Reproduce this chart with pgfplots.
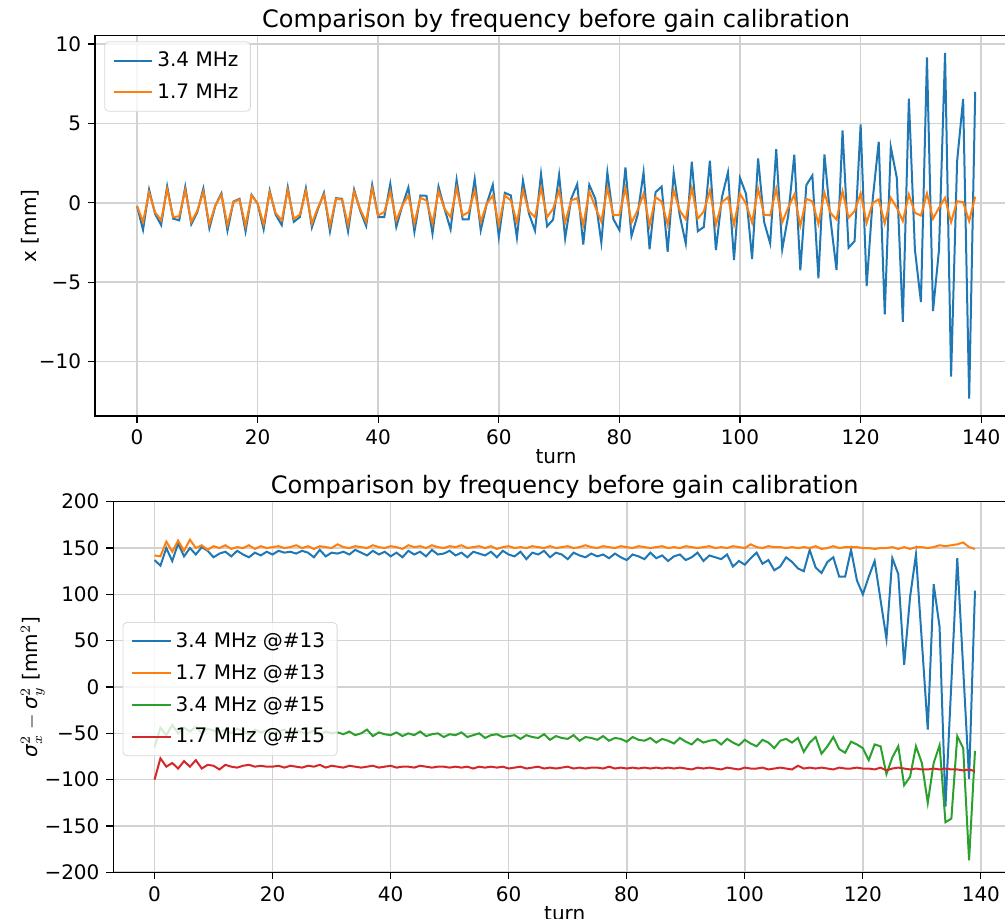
\documentclass[border=0pt]{standalone}
\usepackage{fontspec}
\setmainfont{DejaVu Sans}
\usepackage{pgfplots}
\pgfplotsset{compat=1.18}
\usepackage{pgfplotstable}

\definecolor{tabblue}{HTML}{1F77B4}
\definecolor{taborange}{HTML}{FF7F0E}
\definecolor{tabgreen}{HTML}{2CA02C}
\definecolor{tabred}{HTML}{D62728}

% turn, 3.4 MHz, 1.7 MHz  (x in mm)
\pgfplotstableread{
t a b
0 -0.2 -0.2
1 -1.7 -1.2
2 0.83 0.65
3 -0.7 -0.6
4 -1.4 -1.1
5 1.04 0.85
6 -1.0 -0.9
7 -1.1 -0.85
8 1.0 0.8
9 -1.35 -1.2
10 -0.6 -0.5
11 0.9 0.7
12 -1.6 -1.35
13 -0.17 -0.15
14 0.6 0.5
15 -1.75 -1.4
16 0.08 0.05
17 0.25 0.2
18 -1.8 -1.45
19 0.5 0.45
20 -0.06 -0.05
21 -1.67 -1.35
22 0.77 0.65
23 -0.75 -0.65
24 -1.4 -1.1
25 0.98 0.8
26 -1.2 -1.0
27 -0.9 -0.75
28 0.92 0.75
29 -1.55 -1.3
30 -0.4 -0.3
31 0.63 0.5
32 -1.8 -1.45
33 0.29 0.25
34 0.25 0.2
35 -1.8 -1.4
36 0.83 0.7
37 -0.48 -0.4
38 -1.46 -1.2
39 1.13 0.9
40 -0.9 -0.8
41 -0.9 -0.58
42 1.19 0.71
43 -1.52 -1.1
44 -0.17 -0.17
45 0.96 0.46
46 -1.83 -1.3
47 0.46 0.31
48 0.44 0.15
49 -1.94 -1.3
50 1.02 0.71
51 -0.38 -0.38
52 -1.67 -0.9
53 1.44 0.92
54 -1.04 -0.8
55 -1.04 -0.58
56 1.5 0.77
57 -1.73 -1.2
58 -0.06 -0.06
59 1.13 0.46
60 -2.15 -1.4
61 0.63 0.46
62 0.46 0.15
63 -2.2 -1.25
64 1.4 0.77
65 -0.69 -0.54
66 -1.75 -0.9
67 1.81 0.92
68 -1.48 -0.9
69 -1.06 -0.38
70 1.75 0.77
71 -2.25 -1.25
72 0.25 0.15
73 1.17 0.29
74 -2.63 -1.4
75 1.13 0.71
76 0.25 -0.27
77 -2.5 -1.18
78 1.92 0.92
79 -1.03 -0.78
80 -1.72 -0.78
81 2.23 0.92
82 -2.1 -1.25
83 -0.79 -0.48
84 1.92 0.56
85 -2.92 -1.42
86 0.67 0.35
87 1.02 0.08
88 -3.08 -1.38
89 1.88 0.77
90 -0.79 -0.48
91 -2.56 -1.04
92 2.58 0.92
93 -1.79 -1.0
94 -1.52 -0.54
95 2.65 0.77
96 -2.98 -1.38
97 0.35 0.04
98 1.92 0.35
99 -3.6 -1.38
100 1.56 0.56
101 0.56 -0.06
102 -3.54 -1.25
103 2.79 0.88
104 -1.21 -0.75
105 -2.56 -0.79
106 3.38 0.88
107 -2.93 -1.23
108 -0.79 -0.3
109 3.03 0.52
110 -4.25 -1.45
111 1.12 0.25
112 1.72 0.09
113 -4.75 -1.33
114 3.04 0.63
115 -1.05 -0.63
116 -4.23 -1.05
117 4.55 0.73
118 -2.83 -0.94
119 -2.41 -0.52
120 4.93 0.59
121 -5.24 -1.26
122 0.21 0.0
123 3.84 0.21
124 -7.02 -1.3
125 3.52 0.31
126 1.57 -0.31
127 -7.5 -1.15
128 6.56 0.52
129 -2.94 -0.63
130 -6.25 -0.8
131 9.16 0.59
132 -6.81 -1.0
133 -2.94 -0.31
134 9.43 0.31
135 -10.94 -1.22
136 2.62 0.1
137 6.54 0.04
138 -12.33 -1.15
139 6.98 0.38
}\topdata

% turn, 3.4 MHz @#13, 1.7 MHz @#13, 3.4 MHz @#15, 1.7 MHz @#15
\pgfplotstableread{
t a b c d
0 137 142 -65 -100
1 131 141 -44 -77
2 150 157 -52 -86
3 136 146 -41 -82
4 155 158 -50 -88
5 141 147 -44 -80
6 150 159 -48 -86
7 143 150 -43 -79
8 151 153 -50 -88
9 147 148 -45 -84
10 140 152 -47 -85
11 144 150 -49 -89
12 146 153 -46 -84
13 141 149 -50 -86
14 147 151 -45 -87
15 143 150 -48 -85
16 140 153 -51 -84
17 145 149 -46 -86
18 142 152 -49 -85
19 146 150 -47 -86
20 143 151 -50 -86
21 147 152 -48 -85
22 145 150 -46 -87
23 146 151 -51 -85
24 144 153 -47 -86
25 147 150 -49 -87
26 145 152 -50 -85
27 140 149 -47 -86
28 148 152 -52 -84
29 141 151 -48 -87
30 145 150 -50 -85
31 144 154 -49 -86
32 146 151 -51 -87
33 143 150 -48 -85
34 148 152 -52 -86
35 145 151 -50 -87
36 142 150 -46 -86
37 147 153 -53 -85
38 143 151 -49 -87
39 146 150 -51 -86
40 141 152 -52 -85
41 145 151 -49 -87
42 140 149 -53 -86
43 147 153 -50 -86
44 143 151 -52 -87
45 146 152 -48 -85
46 141 150 -53 -86
47 148 153 -51 -87
48 143 151 -50 -86
49 144 150 -54 -86
50 147 152 -51 -87
51 142 151 -52 -86
52 145 153 -49 -87
53 140 150 -54 -86
54 146 151 -52 -88
55 144 152 -50 -86
56 142 150 -55 -87
57 146 152 -52 -86
58 140 149 -51 -87
59 147 151 -54 -86
60 143 152 -53 -88
61 141 150 -52 -87
62 146 151 -56 -86
63 138 150 -52 -88
64 145 152 -54 -87
65 143 151 -55 -86
66 147 150 -51 -88
67 140 152 -57 -87
68 145 150 -53 -88
69 143 151 -55 -87
70 138 152 -56 -86
71 145 150 -52 -88
72 142 151 -58 -87
73 140 153 -54 -88
74 144 151 -55 -87
75 141 150 -57 -87
76 143 152 -53 -88
77 139 151 -58 -86
78 144 150 -55 -88
79 140 152 -56 -87
80 137 151 -59 -88
81 143 150 -54 -87
82 141 152 -57 -88
83 138 151 -58 -87
84 145 150 -55 -88
85 139 151 -60 -87
86 142 152 -56 -88
87 136 150 -58 -87
88 141 151 -61 -88
89 143 150 -55 -87
90 137 152 -59 -88
91 140 151 -62 -89
92 145 150 -56 -87
93 136 151 -60 -88
94 142 152 -58 -87
95 140 150 -57 -88
96 138 151 -62 -89
97 143 150 -56 -87
98 130 152 -60 -88
99 136 151 -63 -89
100 132 150 -57 -87
101 139 154 -61 -88
102 145 151 -64 -88
103 133 150 -57 -87
104 137 152 -60 -89
105 126 151 -66 -88
106 130 151 -58 -87
107 140 150 -56 -88
108 135 151 -60 -89
109 128 150 -55 -85
110 125 151 -70 -88
111 148 150 -60 -87
112 129 152 -54 -88
113 123 149 -72 -87
114 135 150 -64 -88
115 140 152 -54 -89
116 119 150 -67 -87
117 119 151 -71 -88
118 148 151 -59 -88
119 115 151 -62 -87
120 100 150 -66 -88
121 119 150 -79 -88
122 136 149 -62 -89
123 94 150 -64 -87
124 52 150 -94 -90
125 139 151 -76 -88
126 122 149 -64 -87
127 24 151 -106 -88
128 97 149 -97 -89
129 143 151 -64 -88
130 49 151 -82 -89
131 -46 150 -125 -89
132 111 151 -82 -88
133 65 153 -63 -89
134 -129 152 -146 -88
135 5 153 -142 -89
136 139 154 -53 -89
137 20 156 -66 -90
138 -99 151 -187 -89
139 104 149 -69 -91
}\botdata

\pgfplotsset{
  mpl/.style={
    scale only axis,
    tick align=outside,
    tick pos=left,
    grid=major,
    major grid style={gray!35, line width=0.8pt},
    axis line style={line width=0.6pt},
    major tick length=3.5pt,
    every tick/.style={black, line width=0.6pt},
    tick label style={font=\fontsize{10}{12}\selectfont},
    label style={font=\fontsize{10}{12}\selectfont},
    xlabel style={yshift=4.5pt},
    ylabel style={yshift=-7pt},
    title style={font=\fontsize{12}{14}\selectfont, at={(0.5,1)}, anchor=base, yshift=-1.8pt},
    /pgf/number format/assume math mode=true,
    xmin=-6.95, xmax=145.95,
    xtick={0,20,...,140},
    xlabel={turn},
    title={Comparison by frequency before gain calibration},
    legend cell align=left,
    legend image code/.code={\draw[##1, line width=1pt] (0cm,0cm) -- (0.68cm,0cm);},
    every axis plot/.append style={line width=1pt, mark=none},
    legend style={
      draw=gray!30, rounded corners=2pt, fill=white, fill opacity=0.8,
      text opacity=1, font=\fontsize{10}{12}\selectfont,
      inner xsep=4pt, inner ysep=3pt, row sep=3pt,
    },
  }
}

\begin{document}
\begin{tikzpicture}
  \begin{axis}[mpl,
      at={(47.55pt,251.5pt)}, anchor=south west,
      width=461pt, height=190.15pt,
      ymin=-13.42, ymax=10.52,
      ytick={-10,-5,0,5,10},
      yticklabels={−10,−5,0,5,10},
      ylabel={x [mm]},
      legend style={at={(0.01,0.985)}, anchor=north west},
    ]
    \addplot[tabblue] table[x=t, y=a] {\topdata};
    \addplot[taborange] table[x=t, y=b] {\topdata};
    \legend{3.4 MHz, 1.7 MHz}
  \end{axis}

  \begin{axis}[mpl,
      at={(56.75pt,23.35pt)}, anchor=south west,
      width=451.25pt, height=185.3pt,
      ymin=-200, ymax=200,
      ytick={-200,-150,...,200},
      yticklabels={−200,−150,−100,−50,0,50,100,150,200},
      ylabel={\textit{σ}${}_x^2-{}$\textit{σ}${}_y^2$ [mm$^2$]},
      legend style={at={(0.01,0.675)}, anchor=north west},
    ]
    \addplot[tabblue] table[x=t, y=a] {\botdata};
    \addplot[taborange] table[x=t, y=b] {\botdata};
    \addplot[tabgreen] table[x=t, y=c] {\botdata};
    \addplot[tabred] table[x=t, y=d] {\botdata};
    \legend{3.4 MHz @\#13, 1.7 MHz @\#13, 3.4 MHz @\#15, 1.7 MHz @\#15}
  \end{axis}

  \pgfresetboundingbox
  \path[use as bounding box] (0,0) rectangle (502.5pt,459.5pt);
\end{tikzpicture}
\end{document}
